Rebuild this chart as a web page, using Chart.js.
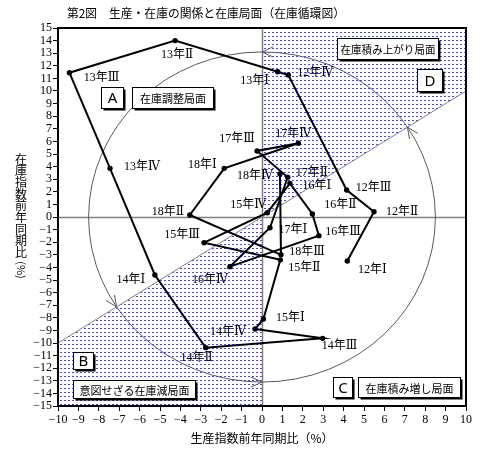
<!DOCTYPE html>
<html lang="ja">
<head>
<meta charset="utf-8" />
<script src="https://cdn.jsdelivr.net/npm/chart.js@4.4.1/dist/chart.umd.min.js"></script>
<style>
  html, body { margin: 0; padding: 0; background: #fff; }
</style>
</head>
<body>
<canvas id="myChart" width="480" height="456"></canvas>

<script>
// 期 (平成12年Ⅰ期 〜 18年Ⅳ期)
var quarters = ['12年Ⅰ','12年Ⅱ','12年Ⅲ','12年Ⅳ','13年Ⅰ','13年Ⅱ','13年Ⅲ','13年Ⅳ',
                '14年Ⅰ','14年Ⅱ','14年Ⅲ','14年Ⅳ','15年Ⅰ','15年Ⅱ','15年Ⅲ','15年Ⅳ',
                '16年Ⅰ','16年Ⅱ','16年Ⅲ','16年Ⅳ','17年Ⅰ','17年Ⅱ','17年Ⅲ','17年Ⅳ',
                '18年Ⅰ','18年Ⅱ','18年Ⅲ','18年Ⅳ'];
// 生産指数前年同期比(%) 横軸
var prodYoY = [4.18, 5.49, 4.15, 1.29, 0.77, -4.26, -9.44, -7.45,
               -5.25, -2.76, 2.97, -0.34, 0.07, 0.90, -2.84, 0.26,
               1.37, 2.47, 2.79, -1.57, 0.39, 1.26, -0.24, 1.78,
               -1.85, -3.54, 0.93, 0.88];
// 在庫指数前年同期比(%) 縦軸
var invYoY = [-3.49, 0.42, 2.14, 11.27, 11.53, 14.0, 11.45, 3.86,
              -4.60, -10.37, -9.63, -8.89, -8.10, -3.40, -2.04, 0.34,
              2.67, 0.24, -1.48, -3.94, -0.85, 3.15, 5.24, 5.85,
              3.86, 0.16, -3.00, 3.41];
// 目盛
var xTickValues = [-10,-9,-8,-7,-6,-5,-4,-3,-2,-1,0,1,2,3,4,5,6,7,8,9,10];
var yTickValues = [-15,-14,-13,-12,-11,-10,-9,-8,-7,-6,-5,-4,-3,-2,-1,0,
                   1,2,3,4,5,6,7,8,9,10,11,12,13,14,15];

// ラベルの位置 (点からのずれ px)
var labelOffsets = [[25,9],[28,0],[27,-2],[27,-2],[-23,9],[2,14],[32,5],[32,-2],
                    [-24,5],[-9,10],[17,8],[-27,3],[27,-1],[24,8],[-22,-8],[-19,-8],
                    [27,2],[28,-9],[24,-4],[-20,13],[23,2],[24,-4],[-20,-12],[-5,-9],
                    [-22,-4],[-22,-3],[26,-3],[-25,2]];

// 局面の枠 (左上をデータ座標で)
var phaseBoxes = [
  { text: 'A', x: -7.89, y: 10.32, w: 22, h: 21, big: true },
  { text: '在庫調整局面', x: -6.37, y: 10.32, w: 81, h: 21 },
  { text: 'D', x: 7.6, y: 11.75, w: 25, h: 22, big: true },
  { text: '在庫積み上がり局面', x: 3.68, y: 14.2, w: 101, h: 21 },
  { text: 'B', x: -9.26, y: -10.7, w: 20, h: 17, big: true },
  { text: '意図せざる在庫減局面', x: -9.26, y: -12.94, w: 122, h: 18 },
  { text: 'C', x: 3.48, y: -12.7, w: 19, h: 20, big: true },
  { text: '在庫積み増し局面', x: 4.7, y: -12.7, w: 102, h: 20 }
];

var serif = '"Liberation Serif", "DejaVu Serif", "Noto Sans CJK JP", serif';
var sans = '"Noto Sans CJK JP", "Noto Sans", sans-serif';

function fmt(v) {
  return v < 0 ? '\u2212' + Math.abs(v) : String(v);
}

function dotPattern(ctx) {
  var c = document.createElement('canvas');
  c.width = 4; c.height = 4;
  var g = c.getContext('2d');
  g.fillStyle = '#4646ff';
  g.fillRect(0, 0, 2, 1);
  return ctx.createPattern(c, 'repeat');
}

// 背景: 網掛け, 0線, 45度線, 円, 矢印
var backPlugin = {
  id: 'back',
  beforeDatasetsDraw: function (chart) {
    var ctx = chart.ctx, a = chart.chartArea;
    var xs = chart.scales.x, ys = chart.scales.y;
    function P(x, y) { return [xs.getPixelForValue(x), ys.getPixelForValue(y)]; }
    ctx.save();
    ctx.beginPath();
    ctx.rect(a.left, a.top, a.right - a.left, a.bottom - a.top);
    ctx.clip();

    ctx.fillStyle = dotPattern(ctx);
    [[[0,0],[0,15],[10,15],[10,10]], [[0,0],[-10,-10],[-10,-15],[0,-15]]].forEach(function (poly) {
      ctx.beginPath();
      poly.forEach(function (p, i) {
        var q = P(p[0], p[1]);
        if (i === 0) ctx.moveTo(q[0], q[1]); else ctx.lineTo(q[0], q[1]);
      });
      ctx.closePath();
      ctx.fill();
    });

    ctx.strokeStyle = '#808080';
    ctx.lineWidth = 1.5;
    var o = P(0, 0);
    ctx.beginPath();
    ctx.moveTo(a.left, Math.round(o[1]) + 0.5); ctx.lineTo(a.right, Math.round(o[1]) + 0.5);
    ctx.moveTo(Math.round(o[0]) + 0.5, a.top); ctx.lineTo(Math.round(o[0]) + 0.5, a.bottom);
    ctx.stroke();

    ctx.lineWidth = 1;
    var d1 = P(-10, -10), d2 = P(10, 10);
    ctx.beginPath();
    ctx.moveTo(d1[0], d1[1]); ctx.lineTo(d2[0], d2[1]);
    ctx.stroke();

    // 円
    var rx = xs.getPixelForValue(8.5) - o[0];
    var ry = o[1] - ys.getPixelForValue(13.1);
    ctx.strokeStyle = '#5a5a5a';
    ctx.beginPath();
    ctx.ellipse(o[0], o[1], rx, ry, 0, 0, Math.PI * 2);
    ctx.stroke();

    // 矢印 (反時計回り)
    [90, 33, 213, 270].forEach(function (deg) {
      var t = deg * Math.PI / 180;
      var px = o[0] + rx * Math.cos(t), py = o[1] - ry * Math.sin(t);
      var dx = -rx * Math.sin(t), dy = -ry * Math.cos(t);
      var l = Math.sqrt(dx * dx + dy * dy); dx /= l; dy /= l;
      var nx = -dy, ny = dx;
      ctx.beginPath();
      ctx.moveTo(px - 11 * dx + 5 * nx, py - 11 * dy + 5 * ny);
      ctx.lineTo(px, py);
      ctx.lineTo(px - 11 * dx - 5 * nx, py - 11 * dy - 5 * ny);
      ctx.stroke();
    });
    ctx.restore();
  }
};

// 前面: 枠, 局面ボックス, 期ラベル, 表題
var frontPlugin = {
  id: 'front',
  afterDraw: function (chart) {
    var ctx = chart.ctx, a = chart.chartArea;
    var xs = chart.scales.x, ys = chart.scales.y;
    ctx.save();
    ctx.strokeStyle = '#000';
    ctx.lineWidth = 2;
    ctx.strokeRect(a.left, a.top, a.right - a.left, a.bottom - a.top);

    ctx.textAlign = 'center';
    ctx.textBaseline = 'middle';
    phaseBoxes.forEach(function (b) {
      var x = Math.round(xs.getPixelForValue(b.x)) + 0.5;
      var y = Math.round(ys.getPixelForValue(b.y)) + 0.5;
      ctx.fillStyle = '#000';
      ctx.fillRect(x + 2, y + 2, b.w, b.h);
      ctx.fillStyle = '#fff';
      ctx.fillRect(x, y, b.w, b.h);
      ctx.lineWidth = 1;
      ctx.strokeRect(x, y, b.w, b.h);
      ctx.fillStyle = '#000';
      ctx.font = b.big ? '15px "Noto Sans", sans-serif' : '11px ' + sans;
      ctx.fillText(b.text, x + b.w / 2, y + b.h / 2 + 1, b.w - 6);
    });

    ctx.font = '12px ' + serif;
    var pts = chart.getDatasetMeta(0).data;
    quarters.forEach(function (q, i) {
      var el = pts[i];
      ctx.fillText(q, el.x + labelOffsets[i][0], el.y + labelOffsets[i][1]);
    });

    // 表題
    ctx.textAlign = 'left';
    ctx.font = '12px ' + sans;
    ctx.fillText('第2図　生産・在庫の関係と在庫局面（在庫循環図）', 67, 13, 278);

    ctx.textAlign = 'center';
    ctx.font = '12px ' + sans;
    ctx.fillText('生産指数前年同期比（%）', (a.left + a.right) / 2, 438, 144);

    // 縦書き
    var chars = '在庫指数前年同期比'.split('');
    chars.forEach(function (c, i) {
      ctx.fillText(c, 21, 159 + i * 11.7);
    });
    ctx.translate(21, 270);
    ctx.rotate(Math.PI / 2);
    ctx.font = '11px ' + sans;
    ctx.fillText('(%)', 0, 0);
    ctx.restore();
  }
};

var tickFont = { family: serif, size: 12 };

const myChart = new Chart(document.getElementById('myChart'), {
  type: 'scatter',
  data: {
    datasets: [{
      data: prodYoY.map(function (x, i) { return { x: x, y: invYoY[i] }; }),
      showLine: true,
      borderColor: '#000',
      borderWidth: 2,
      pointRadius: 2.7,
      pointBackgroundColor: '#000',
      pointBorderWidth: 0,
      tension: 0
    }]
  },
  options: {
    responsive: false,
    animation: false,
    layout: { padding: { top: 28, right: 14, left: 0, bottom: 0 } },
    plugins: { legend: { display: false }, tooltip: { enabled: false } },
    scales: {
      x: {
        type: 'linear', min: -10, max: 10,
        afterBuildTicks: function (s) { s.ticks = xTickValues.map(function (v) { return { value: v }; }); },
        afterFit: function (s) { s.height = 50; },
        ticks: { autoSkip: false, maxRotation: 0, minRotation: 0, color: '#000', font: tickFont, padding: 2, callback: fmt },
        grid: { drawOnChartArea: false, drawTicks: true, tickLength: 5, color: '#000' },
        border: { display: false }
      },
      y: {
        type: 'linear', min: -15, max: 15,
        afterBuildTicks: function (s) { s.ticks = yTickValues.map(function (v) { return { value: v }; }); },
        afterFit: function (s) { s.width = 58; },
        ticks: { autoSkip: false, color: '#000', font: tickFont, padding: 1, callback: fmt },
        grid: { drawOnChartArea: false, drawTicks: true, tickLength: 5, color: '#000' },
        border: { display: false }
      }
    }
  },
  plugins: [backPlugin, frontPlugin]
});
</script>
</body>
</html>
